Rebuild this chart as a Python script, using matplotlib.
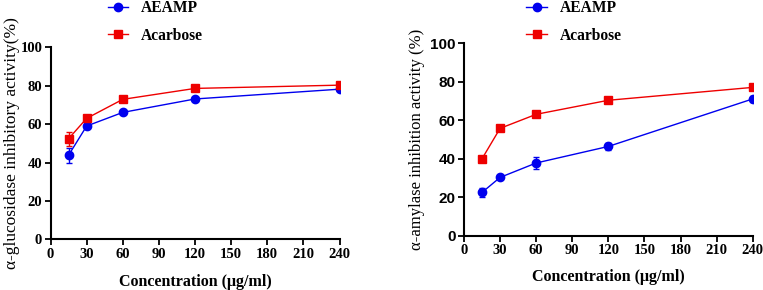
import matplotlib.pyplot as plt
from matplotlib.lines import Line2D

conc = [15, 30, 60, 120, 240]

# alpha-glucosidase
glu_aeamp = [43.8, 59.0, 66.1, 73.1, 78.2]
glu_aeamp_err = [4.0, 1.0, 1.0, 0.8, 0.8]
glu_acarb = [52.4, 63.0, 72.9, 78.6, 80.3]
glu_acarb_err = [3.7, 1.0, 0.8, 0.8, 0.8]

# alpha-amylase
amy_aeamp = [22.5, 30.3, 37.8, 46.4, 71.1]
amy_aeamp_err = [2.4, 0.8, 3.0, 2.0, 1.7]
amy_acarb = [40.0, 55.8, 63.1, 70.4, 77.1]
amy_acarb_err = [0.8, 0.8, 0.8, 0.8, 0.8]

xticks = [0, 30, 60, 90, 120, 150, 180, 210, 240]
yticks = [0, 20, 40, 60, 80, 100]

serif = 'Liberation Serif'
sans = 'Liberation Sans'
blue = '#0000ee'
red = '#ee0000'

fig = plt.figure(figsize=(7.63, 2.9), dpi=100)

def panel(rect, aeamp, aeamp_err, acarb, acarb_err, ylabel, ylsize, ytickfont, legx):
    ax = fig.add_axes(rect)
    ax.errorbar(conc, aeamp, yerr=aeamp_err, color=blue, marker='o', ms=6,
                lw=1, capsize=2.5, elinewidth=1)
    ax.errorbar(conc, acarb, yerr=acarb_err, color=red, marker='s', ms=6,
                lw=1, capsize=2.5, elinewidth=1)
    ax.set_xlim(0, 240)
    ax.set_ylim(0, 100)
    ax.set_xticks(xticks)
    ax.set_yticks(yticks)
    ax.spines['top'].set_visible(False)
    ax.spines['right'].set_visible(False)
    for s in ['left', 'bottom']:
        ax.spines[s].set_linewidth(1.5)
    ax.tick_params(width=1.3, length=4, direction='out', pad=2)
    for t in ax.get_xticklabels():
        t.set_fontfamily(serif)
        t.set_fontweight('bold')
        t.set_fontsize(10.5)
    for t in ax.get_yticklabels():
        t.set_fontfamily(ytickfont)
        t.set_fontweight('bold')
        t.set_fontsize(11 if ytickfont == sans else 10.5)
    ax.set_xlabel('Concentration (μg/ml)', fontfamily=serif, fontweight='bold', fontsize=11.5)
    ax.set_ylabel(ylabel, fontfamily=serif, fontsize=ylsize)
    handles = [Line2D([], [], color=blue, marker='o', ms=6, lw=1),
               Line2D([], [], color=red, marker='s', ms=6, lw=1)]
    ax.legend(handles, ['AEAMP', 'Acarbose'], loc='upper left', bbox_to_anchor=(legx, 1.0),
              bbox_transform=fig.transFigure, frameon=False, borderpad=0, borderaxespad=0,
              handlelength=1.3, handletextpad=0.85, labelspacing=0.75,
              prop={'family': serif, 'weight': 'bold', 'size': 11.2})
    return ax

ax1 = panel([0.0662, 0.1748, 0.3788, 0.662], glu_aeamp, glu_aeamp_err, glu_acarb, glu_acarb_err,
            'α-glucosidase inhibitory activity(%)', 12.5, serif, 0.141)
ax1.yaxis.set_label_coords(-0.133, 0.5)
ax1.yaxis.label.set_va('center')
ax1.xaxis.set_label_coords(0.5, -0.222)
ax1.xaxis.label.set_va('center')

ax2 = panel([0.6081, 0.1872, 0.3784, 0.6634], amy_aeamp, amy_aeamp_err, amy_acarb, amy_acarb_err,
            'α-amylase inhibition activity (%)', 12, sans, 0.69)
ax2.yaxis.set_label_coords(-0.164, 0.5)
ax2.yaxis.label.set_va('center')
ax2.xaxis.set_label_coords(0.5, -0.215)
ax2.xaxis.label.set_va('center')

fig.savefig('out.png', dpi=100)
